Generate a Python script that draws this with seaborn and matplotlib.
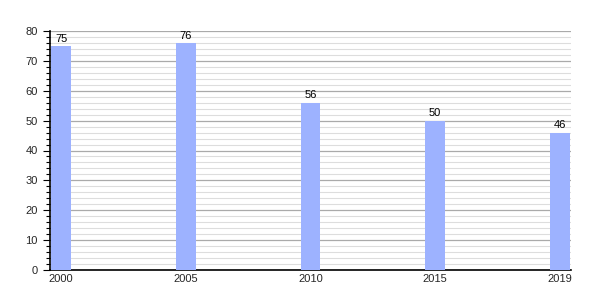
import matplotlib
matplotlib.use("Agg")
import matplotlib.pyplot as plt
import seaborn as sns
import pandas as pd
from matplotlib.ticker import MultipleLocator

years = ["2000", "2005", "2010", "2015", "2019"]
values = [75, 76, 56, 50, 46]

sns.set_style("white")
plt.rcParams['font.family'] = ['Liberation Sans', 'DejaVu Sans']

df = pd.DataFrame({"year": years, "value": values})

fig = plt.figure(figsize=(6, 3), dpi=100)
ax = fig.add_axes([50/600, 30/300, 521/600, 239/300])

sns.barplot(data=df, x="year", y="value", color="#9db2ff", width=0.16,
            saturation=1, ax=ax, zorder=3, linewidth=0, edgecolor="none")

ax.set_ylim(0, 80)
ax.set_xlim(-0.09, 4.09)
ax.yaxis.set_major_locator(MultipleLocator(10))
ax.yaxis.set_minor_locator(MultipleLocator(2))
ax.grid(which="major", axis="y", color="#aaaaaa", linewidth=0.9, zorder=0)
ax.grid(which="minor", axis="y", color="#dddddd", linewidth=0.8, zorder=0)
ax.set_axisbelow(True)

for s in ["top", "right"]:
    ax.spines[s].set_visible(False)
ax.spines["left"].set_color("black")
ax.spines["bottom"].set_color("black")
ax.spines["left"].set_linewidth(1.2)
ax.spines["bottom"].set_linewidth(1.2)

ax.tick_params(axis="y", which="major", length=5, width=0.8, color="black",
               labelsize=8, left=True, pad=4)
ax.tick_params(axis="y", which="minor", length=3, width=0.8, color="black", left=True)
ax.tick_params(axis="x", length=0, labelsize=8, pad=3)
ax.set_xlabel("")
ax.set_ylabel("")

for i, v in enumerate(values):
    ax.text(i, v + 0.8, str(v), ha="center", va="bottom", fontsize=8, color="black")

fig.savefig("out.png", dpi=100, facecolor="white")
